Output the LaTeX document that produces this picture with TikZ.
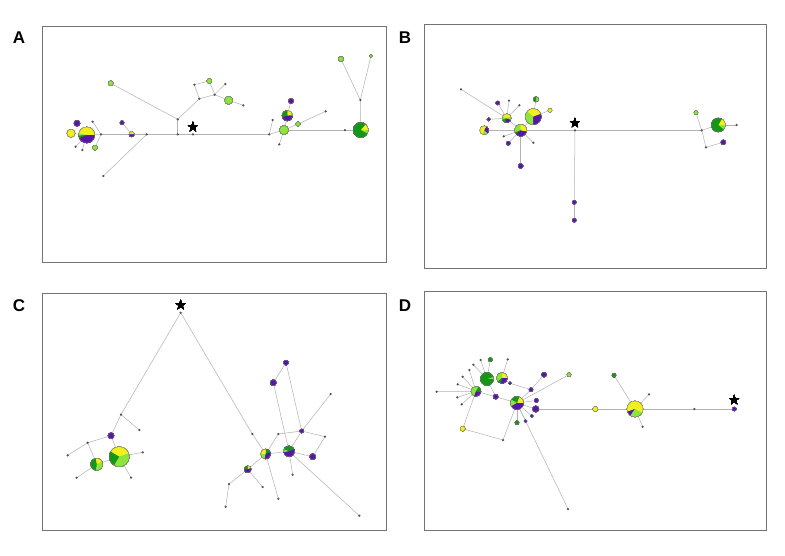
\documentclass[tikz,border=0pt]{standalone}
\usepackage{fontspec}
\usepackage{amssymb}
\setsansfont{Liberation Sans}
\definecolor{purp}{RGB}{88,22,168}
\definecolor{yel}{RGB}{240,240,30}
\definecolor{lgr}{RGB}{140,228,60}
\definecolor{dgr}{RGB}{22,150,22}
\definecolor{dotc}{RGB}{75,85,75}
\definecolor{frm}{RGB}{115,115,115}
\newcommand\hdot[1]{\fill[dotc] (#1) circle[radius=1.25pt];}
\newcommand\hcirc[3]{\filldraw[fill=#3,draw=black!55,line width=0.25pt] (#1) circle[radius=#2pt];}
\newcommand\hsl[5]{\fill[#5] (#1) -- ++(#3:#2pt) arc[start angle=#3,end angle=#4,radius=#2pt] -- cycle;}
\newcommand\hrim[2]{\draw[black!55,line width=0.25pt] (#1) circle[radius=#2pt];}
\tikzset{
  edge/.style={draw=gray!60,line width=0.5pt},
  panel/.style={draw=frm,line width=1pt},
  plabel/.style={font=\sffamily\bfseries\fontsize{17}{17}\selectfont,anchor=center},
  startag/.style={font=\large,inner sep=0pt}
}
\begin{document}
\begin{tikzpicture}[x=1pt,y=-1pt]
\useasboundingbox (0,0) rectangle (785,555);
\fill[white] (0,0) rectangle (785,555);
% frames
\draw[panel] (42,26) rectangle (386,262);
\draw[panel] (424,24) rectangle (766,268);
\draw[panel] (42,293) rectangle (386,530);
\draw[panel] (424,291) rectangle (766,530);
\node[plabel] (LA) at (19,38) {A};
\node[plabel] (LB) at (405,38) {B};
\node[plabel] (LC) at (19,306) {C};
\node[plabel] (LD) at (405,306) {D};
% ---------------- Panel A
\coordinate (a1) at (86.7,135);
\coordinate (a2) at (77,123.3);
\coordinate (a3) at (71,133.3);
\coordinate (a4) at (92.7,121.7);
\coordinate (a5) at (75.7,146.7);
\coordinate (a6) at (82.3,150);
\coordinate (a7) at (95,147.7);
\coordinate (a8) at (101,134.3);
\coordinate (a9) at (122,122.7);
\coordinate (a10) at (131.7,134.3);
\coordinate (a11) at (146.7,134.3);
\coordinate (a12) at (103.3,176);
\coordinate (a13) at (177.7,134.3);
\coordinate (a14) at (177.7,119.3);
\coordinate (a15) at (110.7,83.3);
\coordinate (a16) at (199.3,98.7);
\coordinate (a17) at (194.3,84.7);
\coordinate (a18) at (209.3,81);
\coordinate (a19) at (214.7,94.7);
\coordinate (a20) at (225.3,84);
\coordinate (a21) at (228.7,100.3);
\coordinate (a22) at (243.3,105.3);
\coordinate (a23) at (193,134.3);
\coordinate (a24) at (269.3,134.3);
\coordinate (a25) at (272.7,120);
\coordinate (a26) at (284,130);
\coordinate (a27) at (279.3,144.3);
\coordinate (a28) at (287.3,115.7);
\coordinate (a29) at (291,101);
\coordinate (a30) at (298,124);
\coordinate (a31) at (325.7,111.3);
\coordinate (a32) at (345,130);
\coordinate (a33) at (360.7,130);
\coordinate (a34) at (360.3,100);
\coordinate (a35) at (341,59);
\coordinate (a36) at (371,56);
\foreach \u/\v in {a1/a3,a1/a5,a1/a6,a1/a8,a8/a4,a8/a7,a8/a10,a9/a10,a10/a11,a11/a12,a11/a13,a13/a14,a14/a15,a14/a16,a16/a17,a17/a18,a18/a19,a19/a16,a19/a20,a19/a21,a21/a22,a13/a23,a23/a24,a24/a25,a24/a26,a26/a27,a26/a28,a28/a29,a26/a30,a30/a31,a26/a32,a32/a33,a33/a34,a34/a35,a34/a36}
  \draw[edge] (\u) -- (\v);
\foreach \p in {a4,a5,a6,a8,a11,a12,a13,a14,a16,a17,a19,a20,a22,a23,a24,a25,a27,a31,a32,a34} \hdot{\p}
\hcirc{a2}{3}{purp}
\hcirc{a3}{4}{yel}
\hcirc{a7}{2.5}{lgr}
\hcirc{a9}{2}{purp}
\hcirc{a15}{2.5}{lgr}
\hcirc{a18}{2.5}{lgr}
\hcirc{a21}{4}{lgr}
\hcirc{a26}{4.5}{lgr}
\hcirc{a29}{2.5}{purp}
\hcirc{a30}{2.2}{lgr}
\hcirc{a35}{2.5}{lgr}
\hcirc{a36}{1.5}{lgr}
% pies A
\hsl{a1}{8}{0}{170}{yel}\hsl{a1}{8}{170}{185}{lgr}\hsl{a1}{8}{185}{205}{dgr}\hsl{a1}{8}{205}{360}{purp}\hrim{a1}{8}
\hsl{a10}{2.6}{0}{180}{yel}\hsl{a10}{2.6}{180}{360}{purp}\hrim{a10}{2.6}
\hsl{a28}{5.3}{0}{20}{lgr}\hsl{a28}{5.3}{20}{90}{yel}\hsl{a28}{5.3}{90}{200}{dgr}\hsl{a28}{5.3}{200}{360}{purp}\hrim{a28}{5.3}
\hsl{a33}{7.5}{-30}{0}{lgr}\hsl{a33}{7.5}{0}{50}{yel}\hsl{a33}{7.5}{50}{330}{dgr}\hrim{a33}{7.5}
\node[startag] (sA) at (193,128) {$\bigstar$};
% ---------------- Panel B
\coordinate (b1) at (461,89.3);
\coordinate (b2) at (506.7,118.3);
\coordinate (b3) at (497.7,103);
\coordinate (b4) at (509,100.7);
\coordinate (b5) at (519.3,105.3);
\coordinate (b6) at (536,99.3);
\coordinate (b7) at (533.3,116.7);
\coordinate (b8) at (550,110.3);
\coordinate (b9) at (488.7,119.3);
\coordinate (b10) at (484.3,130.3);
\coordinate (b11) at (520.7,130.3);
\coordinate (b12) at (503.7,136.3);
\coordinate (b13) at (508.3,143.3);
\coordinate (b14) at (533.3,142.7);
\coordinate (b15) at (520.7,166);
\coordinate (b16) at (575,130.3);
\coordinate (b17) at (574.3,202.3);
\coordinate (b18) at (574.3,220.3);
\coordinate (b19) at (701.7,130.3);
\coordinate (b20) at (696,112.7);
\coordinate (b21) at (718.3,125);
\coordinate (b22) at (736.7,125);
\coordinate (b23) at (723.3,142.3);
\coordinate (b24) at (706,147.3);
\foreach \u/\v in {b1/b2,b2/b3,b2/b4,b2/b5,b2/b9,b2/b11,b7/b11,b7/b6,b7/b8,b10/b11,b11/b12,b11/b13,b11/b14,b11/b15,b11/b16,b16/b17,b17/b18,b16/b19,b19/b20,b19/b21,b19/b24,b24/b23,b21/b22}
  \draw[edge] (\u) -- (\v);
\foreach \p in {b1,b4,b5,b12,b14,b16,b19,b22,b24} \hdot{\p}
\hcirc{b3}{2}{purp}
\hcirc{b9}{1.8}{purp}
\hcirc{b6}{2.6}{lgr}
\hsl{b6}{2.6}{90}{270}{dgr}\hrim{b6}{2.6}
\hcirc{b8}{2}{yel}
\hcirc{b13}{2}{purp}
\hcirc{b15}{2.5}{purp}
\hcirc{b17}{2}{purp}
\hcirc{b18}{2}{purp}
\hcirc{b20}{2}{lgr}
\hcirc{b23}{2.5}{purp}
\hsl{b2}{4.5}{20}{160}{yel}\hsl{b2}{4.5}{160}{200}{lgr}\hsl{b2}{4.5}{200}{260}{dgr}\hsl{b2}{4.5}{260}{340}{purp}\hsl{b2}{4.5}{340}{380}{lgr}\hrim{b2}{4.5}
\hsl{b7}{8}{20}{140}{yel}\hsl{b7}{8}{140}{270}{lgr}\hsl{b7}{8}{270}{380}{purp}\hrim{b7}{8}
\hsl{b10}{4.5}{60}{250}{yel}\hsl{b10}{4.5}{250}{320}{lgr}\hsl{b10}{4.5}{320}{420}{purp}\hrim{b10}{4.5}
\hsl{b11}{6}{90}{200}{lgr}\hsl{b11}{6}{200}{220}{dgr}\hsl{b11}{6}{220}{350}{purp}\hsl{b11}{6}{350}{450}{yel}\hrim{b11}{6}
\hsl{b21}{7}{-40}{0}{lgr}\hsl{b21}{7}{0}{60}{yel}\hsl{b21}{7}{60}{320}{dgr}\hrim{b21}{7}
\node[startag] (sB) at (575,124) {$\bigstar$};
% ---------------- Panel C
\coordinate (c1) at (180.7,312.7);
\coordinate (c2) at (121,414.5);
\coordinate (c3) at (139.3,430);
\coordinate (c4) at (111,435.7);
\coordinate (c5) at (87.7,442.7);
\coordinate (c6) at (67.7,455.3);
\coordinate (c7) at (96.7,464.3);
\coordinate (c8) at (119.3,456.7);
\coordinate (c9) at (142.7,452.3);
\coordinate (c10) at (76.7,477.7);
\coordinate (c11) at (131,477.7);
\coordinate (c12) at (252.3,434);
\coordinate (c13) at (265.7,454);
\coordinate (c14) at (278.3,434);
\coordinate (c15) at (301.7,431);
\coordinate (c16) at (325,436.7);
\coordinate (c17) at (312.7,456.7);
\coordinate (c18) at (330.7,394);
\coordinate (c19) at (286,362.7);
\coordinate (c20) at (273.3,382.7);
\coordinate (c21) at (289,451.3);
\coordinate (c22) at (292.7,474.7);
\coordinate (c23) at (359.3,515.7);
\coordinate (c24) at (278.3,498.7);
\coordinate (c25) at (247.7,469.3);
\coordinate (c26) at (229,484);
\coordinate (c27) at (225.7,506.7);
\coordinate (c28) at (262.7,487);
\foreach \u/\v in {c1/c2,c2/c3,c2/c4,c4/c5,c5/c6,c5/c7,c7/c10,c7/c8,c4/c8,c8/c9,c8/c11,c1/c12,c12/c13,c13/c14,c14/c15,c15/c16,c16/c17,c15/c18,c15/c19,c19/c20,c20/c21,c15/c21,c13/c21,c21/c22,c21/c17,c21/c23,c13/c24,c13/c25,c25/c26,c26/c27,c25/c28}
  \draw[edge] (\u) -- (\v);
\foreach \p in {c1,c2,c3,c5,c6,c9,c10,c11,c12,c14,c16,c18,c22,c23,c24,c26,c27,c28} \hdot{\p}
\hcirc{c4}{3}{purp}
\hcirc{c15}{2}{purp}
\hcirc{c17}{3}{purp}
\hcirc{c19}{2.5}{purp}
\hcirc{c20}{3}{purp}
\hsl{c8}{10}{20}{150}{yel}\hsl{c8}{10}{150}{240}{dgr}\hsl{c8}{10}{240}{380}{lgr}\hrim{c8}{10}
\hsl{c7}{6}{-100}{30}{lgr}\hsl{c7}{6}{30}{100}{yel}\hsl{c7}{6}{100}{260}{dgr}\hrim{c7}{6}
\hsl{c13}{5}{20}{90}{dgr}\hsl{c13}{5}{90}{180}{yel}\hsl{c13}{5}{180}{260}{lgr}\hsl{c13}{5}{260}{380}{purp}\hrim{c13}{5}
\hsl{c21}{5.5}{20}{160}{dgr}\hsl{c21}{5.5}{160}{190}{lgr}\hsl{c21}{5.5}{190}{380}{purp}\hrim{c21}{5.5}
\hsl{c25}{3.5}{20}{90}{yel}\hsl{c25}{3.5}{90}{190}{dgr}\hsl{c25}{3.5}{190}{380}{purp}\hrim{c25}{3.5}
\node[startag] (sC) at (180.7,306) {$\bigstar$};
% ---------------- Panel D
\coordinate (d1) at (476,391.3);
\coordinate (d2) at (436.7,391.7);
\coordinate (d3) at (457.7,384.3);
\coordinate (d4) at (457.3,397.3);
\coordinate (d5) at (461.7,404.3);
\coordinate (d6) at (462.7,376.7);
\coordinate (d7) at (469.3,370);
\coordinate (d8) at (473.3,364.7);
\coordinate (d9) at (480.7,360);
\coordinate (d10) at (490.3,359.7);
\coordinate (d11) at (487,379);
\coordinate (d12) at (502,378);
\coordinate (d13) at (507.7,359.3);
\coordinate (d14) at (495.7,396.7);
\coordinate (d15) at (510,383.3);
\coordinate (d16) at (517,403);
\coordinate (d17) at (531,389.7);
\coordinate (d18) at (544,374.7);
\coordinate (d19) at (569,374.7);
\coordinate (d20) at (536.3,400.5);
\coordinate (d21) at (535.7,409);
\coordinate (d22) at (531.7,416);
\coordinate (d23) at (525.5,421);
\coordinate (d24) at (517,422.7);
\coordinate (d25) at (462.7,428.7);
\coordinate (d26) at (503,440);
\coordinate (d27) at (568,509);
\coordinate (d28) at (595.3,409);
\coordinate (d29) at (635,409);
\coordinate (d30) at (614,375.3);
\coordinate (d31) at (649,394.3);
\coordinate (d32) at (642.7,426.7);
\coordinate (d33) at (694.3,409);
\coordinate (d34) at (734.3,409);
\foreach \u/\v in {d1/d2,d1/d3,d1/d4,d1/d5,d1/d6,d1/d7,d11/d8,d11/d9,d11/d10,d12/d13,d1/d14,d11/d14,d14/d16,d12/d15,d15/d17,d17/d18,d16/d17,d16/d19,d16/d20,d16/d21,d16/d22,d16/d23,d16/d24,d1/d25,d25/d26,d26/d16,d16/d27,d21/d28,d28/d29,d29/d30,d29/d31,d29/d32,d29/d33,d33/d34}
  \draw[edge] (\u) -- (\v);
\foreach \p in {d2,d3,d4,d5,d6,d7,d8,d9,d13,d26,d27,d31,d32,d33} \hdot{\p}
\hcirc{d10}{2}{dgr}
\hcirc{d14}{2.5}{purp}
\hcirc{d15}{1.5}{purp}
\hcirc{d17}{2}{purp}
\hcirc{d18}{2.5}{purp}
\hcirc{d19}{2}{lgr}
\hcirc{d20}{2}{purp}
\hcirc{d21}{3.2}{purp}
\hcirc{d22}{1.5}{purp}
\hcirc{d23}{1.5}{purp}
\hcirc{d24}{2}{dgr}
\hcirc{d25}{2.5}{yel}
\hcirc{d28}{2.5}{yel}
\hcirc{d30}{2}{dgr}
\hcirc{d34}{2}{purp}
\hsl{d1}{5}{60}{250}{lgr}\hsl{d1}{5}{250}{350}{purp}\hsl{d1}{5}{350}{420}{dgr}\hrim{d1}{5}
\hsl{d11}{6.5}{0}{20}{lgr}\hsl{d11}{6.5}{20}{360}{dgr}\hrim{d11}{6.5}
\hsl{d12}{5.5}{0}{90}{yel}\hsl{d12}{5.5}{90}{220}{lgr}\hsl{d12}{5.5}{220}{260}{dgr}\hsl{d12}{5.5}{260}{360}{purp}\hrim{d12}{5.5}
\hsl{d16}{6.5}{0}{70}{yel}\hsl{d16}{6.5}{70}{150}{dgr}\hsl{d16}{6.5}{150}{210}{lgr}\hsl{d16}{6.5}{210}{360}{purp}\hrim{d16}{6.5}
\hsl{d29}{8}{-30}{200}{yel}\hsl{d29}{8}{200}{235}{purp}\hsl{d29}{8}{235}{330}{lgr}\hrim{d29}{8}
\node[startag] (sD) at (734.3,401) {$\bigstar$};
\end{tikzpicture}
\end{document}
